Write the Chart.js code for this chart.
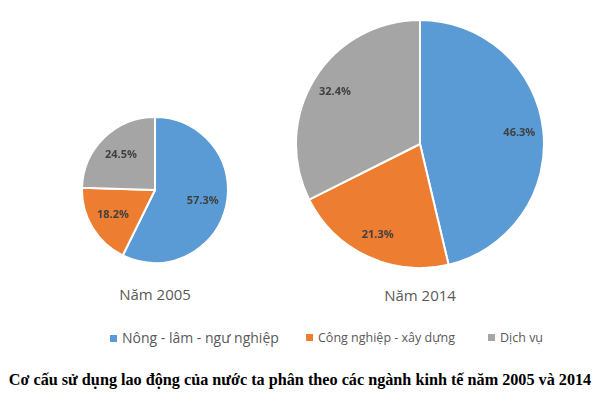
<!DOCTYPE html>
<html>
<head>
<meta charset="utf-8">
<script src="https://cdn.jsdelivr.net/npm/chart.js@4"></script>
<style>
  html, body { margin: 0; padding: 0; background: #fff; }
  #page { position: relative; width: 600px; height: 402px; overflow: hidden; font-family: "Open Sans", sans-serif; }
  .box { position: absolute; }
  .year { position: absolute; width: 160px; text-align: center; font-size: 15px; color: #595959; }
  #legend { position: absolute; top: 328px; left: 0; width: 600px; height: 20px; }
  .item { position: absolute; top: 0; color: #595959; white-space: nowrap; line-height: 20px; }
  .item i { display: inline-block; width: 7px; height: 7px; margin-right: 5px; vertical-align: 1px; }
  #title { position: absolute; top: 371px; left: 0; width: 600px; text-align: center; font-family: "Liberation Serif", serif; font-weight: bold; font-size: 16.2px; color: #000; white-space: nowrap; }
</style>
</head>
<body>
<div id="page">
  <div class="box" style="left:81px;top:116px;width:148px;height:148px;"><canvas id="pie2005"></canvas></div>
  <div class="box" style="left:295px;top:19px;width:250px;height:250px;"><canvas id="pie2014"></canvas></div>
  <div class="year" style="left:75px;top:284px;">Năm 2005</div>
  <div class="year" style="left:340px;top:285px;">Năm 2014</div>
  <div id="legend">
    <span class="item" style="left:110px;font-size:14px;"><i style="background:#5B9BD5"></i>Nông - lâm - ngư nghiệp</span>
    <span class="item" style="left:306px;font-size:12.5px;"><i style="background:#ED7D31"></i>Công nghiệp - xây dựng</span>
    <span class="item" style="left:488px;font-size:12.5px;"><i style="background:#A5A5A5"></i>Dịch vụ</span>
  </div>
  <div id="title">Cơ cấu sử dụng lao động của nước ta phân theo các ngành kinh tế năm 2005 và 2014</div>
</div>
<script>
const sectors = ["Nông - lâm - ngư nghiệp", "Công nghiệp - xây dựng", "Dịch vụ"];
const values2005 = [57.3, 18.2, 24.5];
const values2014 = [46.3, 21.3, 32.4];
const sectorColors = ['#5B9BD5', '#ED7D31', '#A5A5A5'];

// percent labels placed a fixed distance in from the rim, like Excel's best fit
const pctLabels = {
    id: 'pctLabels',
    afterDatasetsDraw(chart) {
        const ctx = chart.ctx;
        const meta = chart.getDatasetMeta(0);
        const data = chart.data.datasets[0].data;
        ctx.save();
        ctx.font = 'bold 11px "Open Sans", sans-serif';
        ctx.fillStyle = '#404040';
        ctx.textAlign = 'center';
        ctx.textBaseline = 'middle';
        meta.data.forEach((arc, i) => {
            const p = arc.getProps(['x', 'y', 'startAngle', 'endAngle', 'outerRadius'], true);
            const mid = (p.startAngle + p.endAngle) / 2;
            const r = p.outerRadius - 24;
            ctx.fillText(data[i].toFixed(1) + '%', p.x + Math.cos(mid) * r, p.y + Math.sin(mid) * r);
        });
        ctx.restore();
    }
};

function makePie(id, values) {
    const ctx = document.getElementById(id).getContext('2d');
    return new Chart(ctx, {
        type: 'pie',
        data: {
            labels: sectors,
            datasets: [{
                data: values,
                backgroundColor: sectorColors,
                borderColor: '#ffffff',
                borderWidth: 2,
            }],
        },
        options: {
            responsive: true,
            maintainAspectRatio: false,
            animation: false,
            layout: { padding: 0 },
            plugins: {
                legend: { display: false },
                tooltip: { enabled: false },
            },
        },
        plugins: [pctLabels],
    });
}

const pie2005Chart = makePie('pie2005', values2005);
const pie2014Chart = makePie('pie2014', values2014);
</script>
</body>
</html>
